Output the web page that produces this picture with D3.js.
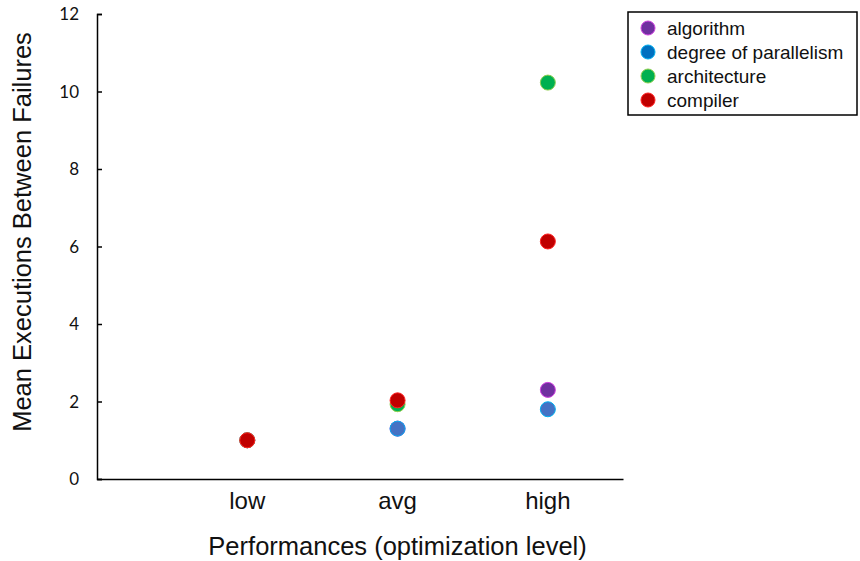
<!DOCTYPE html>
<html>
<head>
<meta charset="utf-8">
<script src="https://cdn.jsdelivr.net/npm/d3@7"></script>
<style>
  body { margin: 0; background: #fff; }
  svg { display: block; }
</style>
</head>
<body>
<svg id="chart" width="860" height="561"></svg>
<script>
// categories on the x axis (Excel scatter positions 1, 2, 3)
const categories = ["low", "avg", "high"];
const xPositions = [1, 2, 3];
const yTicks = [0, 2, 4, 6, 8, 10, 12];

// series values
const seriesNames = ["algorithm", "degree of parallelism", "architecture", "compiler"];
const algorithmValues = [1.0, 1.3, 2.3];
const parallelismValues = [1.0, 1.3, 1.8];
const architectureValues = [1.0, 1.93, 10.23];
const compilerValues = [1.0, 2.03, 6.13];

const fills = ["#7030A0", "#4472C4", "#00B050", "#C00000"];
const strokes = ["#D040E0", "#00B0F0", "#92D050", "#FF2020"];
const legendFills = ["#7030A0", "#0070C0", "#00B050", "#C00000"];

const series = seriesNames.map((name, i) => ({
  name: name,
  values: [algorithmValues, parallelismValues, architectureValues, compilerValues][i],
  fill: fills[i],
  stroke: strokes[i],
  legendFill: legendFills[i]
}));

const svg = d3.select("#chart");

// plot area
const margin = { top: 14, left: 97, bottom: 479, right: 623 };

const xScale = d3.scaleLinear().domain([0, 3.5]).range([margin.left, margin.right]);
const yScale = d3.scaleLinear().domain([0, 12]).range([margin.bottom, margin.top]);

// y axis with inward ticks
const yAxis = d3.axisRight(yScale).tickValues(yTicks).tickSize(5).tickFormat("");
const yg = svg.append("g")
  .attr("transform", `translate(${margin.left},0)`)
  .call(yAxis);
yg.select(".domain").attr("stroke", "#000").attr("stroke-width", 1.5);
yg.selectAll(".tick line").attr("stroke", "#000").attr("stroke-width", 1.5);

// y tick labels
svg.append("g").selectAll("text")
  .data(yTicks)
  .join("text")
  .attr("x", 79)
  .attr("y", (d) => yScale(d) + 6)
  .attr("text-anchor", "end")
  .attr("font-family", "Lato, 'Open Sans', sans-serif")
  .attr("font-size", 17)
  .attr("fill", "#111")
  .text((d) => d);

// x axis line, no ticks
const xAxis = d3.axisBottom(xScale).tickValues([]).tickSizeOuter(0);
const xg = svg.append("g")
  .attr("transform", `translate(0,${margin.bottom})`)
  .call(xAxis);
xg.select(".domain").attr("stroke", "#000").attr("stroke-width", 1.5);

// x category labels
svg.append("g").selectAll("text")
  .data(categories)
  .join("text")
  .attr("x", (d, i) => xScale(xPositions[i]))
  .attr("y", 509)
  .attr("text-anchor", "middle")
  .attr("font-family", "'Liberation Sans', Arial, sans-serif")
  .attr("font-size", 24)
  .attr("fill", "#111")
  .text((d) => d);

// axis titles
svg.append("text")
  .attr("x", xScale(2))
  .attr("y", 555)
  .attr("text-anchor", "middle")
  .attr("font-family", "'Liberation Sans', Arial, sans-serif")
  .attr("font-size", 25.5)
  .attr("fill", "#111")
  .text("Performances (optimization level)");

svg.append("text")
  .attr("transform", "translate(31,232) rotate(-90)")
  .attr("text-anchor", "middle")
  .attr("font-family", "'Liberation Sans', Arial, sans-serif")
  .attr("font-size", 25.5)
  .attr("fill", "#111")
  .text("Mean Executions Between Failures");

// points
series.forEach((s) => {
  svg.append("g").selectAll("circle")
    .data(s.values)
    .join("circle")
    .attr("cx", (d, i) => xScale(xPositions[i]))
    .attr("cy", (d) => yScale(d))
    .attr("r", 7.5)
    .attr("fill", s.fill)
    .attr("stroke", s.stroke)
    .attr("stroke-width", 1);
});

// legend
const legend = svg.append("g").attr("transform", "translate(628,12)");
legend.append("rect")
  .attr("width", 229)
  .attr("height", 103)
  .attr("fill", "#fff")
  .attr("stroke", "#000")
  .attr("stroke-width", 1.5);

const rows = legend.selectAll("g.row")
  .data(series)
  .join("g")
  .attr("class", "row")
  .attr("transform", (d, i) => `translate(0,${16 + i * 24})`);

rows.append("circle")
  .attr("cx", 20)
  .attr("cy", 0)
  .attr("r", 7)
  .attr("fill", (d) => d.legendFill)
  .attr("stroke", (d) => d.stroke)
  .attr("stroke-width", 1);

rows.append("text")
  .attr("x", 39)
  .attr("y", 6.5)
  .attr("font-family", "'Liberation Sans', Arial, sans-serif")
  .attr("font-size", 19)
  .attr("fill", "#111")
  .text((d) => d.name);
</script>
</body>
</html>
